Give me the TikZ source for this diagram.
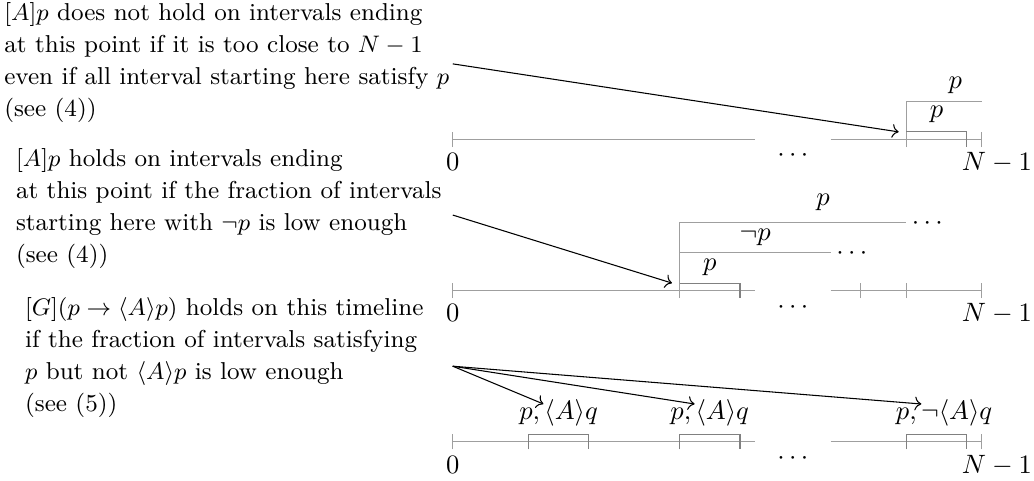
\documentclass[tikz,border=0pt]{standalone}
\usetikzlibrary{arrows.meta}
\begin{document}
\begin{tikzpicture}[
  tl/.style={draw=gray!75, line width=0.4pt},
  br/.style={draw=gray, line width=0.4pt},
  lbl/.style={inner sep=0pt, anchor=base},
  txt/.style={inner sep=0pt, anchor=north west, align=left, font=\fontsize{9.2}{12}\selectfont},
  arr/.style={->, black, line width=0.4pt},
]
\useasboundingbox (-5.99,-0.507) rectangle (7.69,5.845);

% ---------- texts ----------
\node[txt] (t1) at (-5.94,5.812) {$[A]p$ does not hold on intervals ending\\
at this point if it is too close to $N-1$\\
even if all interval starting here satisfy $p$\\
(see (4))};
\node[txt] (t2) at (-5.785,3.885) {$[A]p$ holds on intervals ending\\
at this point if the fraction of intervals\\
starting here with $\neg p$ is low enough\\
(see (4))};
\node[txt] (t3) at (-5.665,1.915) {$[G](p \rightarrow \langle A\rangle p)$ holds on this timeline\\
if the fraction of intervals satisfying\\
$p$ but not $\langle A\rangle p$ is low enough\\
(see (5))};

% ---------- timeline 1 ----------
\begin{scope}[yshift=4cm]
\draw[tl] (0,-0.1) -- (0,0.1) (0,0) -- (4,0) (5,0) -- (7,0) (7,-0.1) -- (7,0.1);
\draw[tl] (6,-0.1) -- (6,0.5) -- (7,0.5);
\draw[br] (6,0.1) -- (6.8,0.1) -- (6.8,-0.1);
\node[lbl] (a1p) at (6.65,0.672) {$p$};
\node[lbl] (a1q) at (6.4,0.285) {$p$};
\node[lbl] (a1z) at (0,-0.415) {$0$};
\node[lbl] (a1n) at (7.2,-0.415) {$N-1$};
\node[lbl] (a1d) at (4.5,-0.298) {$\cdots$};
\coordinate (s1) at (0,1);
\coordinate (e1) at (5.9,0.1);
\end{scope}

% ---------- timeline 2 ----------
\begin{scope}[yshift=2cm]
\draw[tl] (0,-0.1) -- (0,0.1) (0,0) -- (4,0) (5,0) -- (7,0)
  (5.4,-0.1) -- (5.4,0.1) (6,-0.1) -- (6,0.1) (7,-0.1) -- (7,0.1);
\draw[tl] (3,-0.1) -- (3,0.9) -- (6,0.9);
\draw[tl] (3,0.5) -- (5,0.5);
\draw[br] (3,0.1) -- (3.8,0.1) -- (3.8,-0.1);
\node[lbl] (b2p) at (3.4,0.27) {$p$};
\node[lbl] (b2n) at (4.0,0.665) {$\neg p$};
\node[lbl] (b2t) at (4.9,1.12) {$p$};
\node[lbl] (b2d1) at (5.28,0.412) {$\cdots$};
\node[lbl] (b2d2) at (6.28,0.812) {$\cdots$};
\node[lbl] (b2z) at (0,-0.415) {$0$};
\node[lbl] (b2N) at (7.2,-0.415) {$N-1$};
\node[lbl] (b2d) at (4.5,-0.298) {$\cdots$};
\coordinate (s2) at (0,1);
\coordinate (e2) at (2.9,0.1);
\end{scope}

% ---------- timeline 3 ----------
\begin{scope}
\draw[tl] (0,-0.1) -- (0,0.1) (0,0) -- (4,0) (5,0) -- (7,0) (7,-0.1) -- (7,0.1);
\draw[br] (1,-0.1) -- (1,0.1) -- (1.8,0.1) -- (1.8,-0.1);
\draw[br] (3,-0.1) -- (3,0.1) -- (3.8,0.1) -- (3.8,-0.1);
\draw[br] (6,-0.1) -- (6,0.1) -- (6.8,0.1) -- (6.8,-0.1);
\node[lbl] (c3a) at (1.4,0.30) {$p,\langle A\rangle q$};
\node[lbl] (c3b) at (3.4,0.30) {$p,\langle A\rangle q$};
\node[lbl] (c3c) at (6.5,0.30) {$p,\neg\langle A\rangle q$};
\node[lbl] (c3z) at (0,-0.415) {$0$};
\node[lbl] (c3N) at (7.2,-0.415) {$N-1$};
\node[lbl] (c3d) at (4.5,-0.298) {$\cdots$};
\coordinate (s3) at (0,1);
\coordinate (e3a) at (1.2,0.5);
\coordinate (e3b) at (3.2,0.5);
\coordinate (e3c) at (6.2,0.5);
\end{scope}

% ---------- arrows ----------
\draw[arr] (s1) -- (e1);
\draw[arr] (s2) -- (e2);
\draw[arr] (s3) -- (e3a);
\draw[arr] (s3) -- (e3b);
\draw[arr] (s3) -- (e3c);
\end{tikzpicture}
\end{document}
